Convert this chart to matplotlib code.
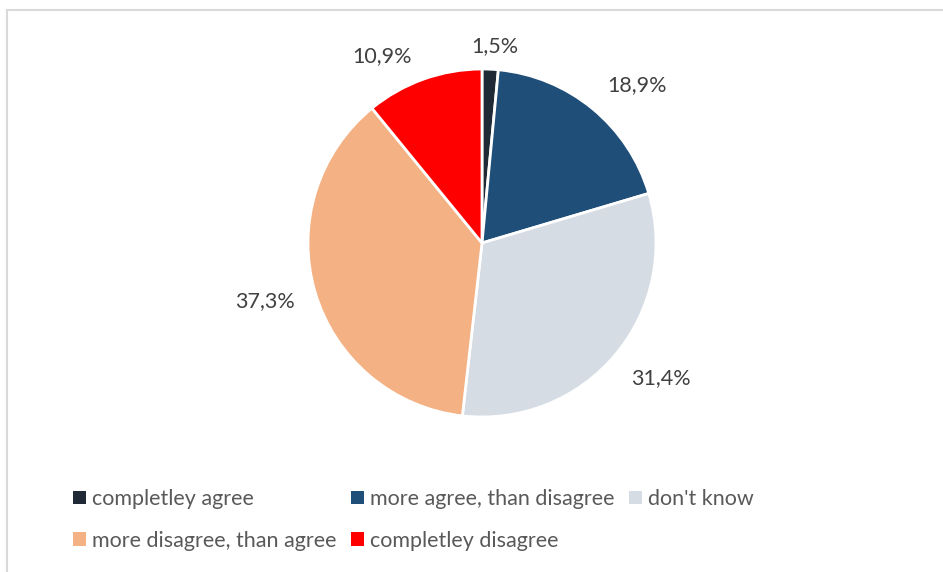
import numpy as np
import matplotlib.pyplot as plt
from matplotlib.lines import Line2D
from matplotlib.patches import Patch

categories = [
    "completley agree",
    "more agree, than disagree",
    "don't know",
    "more disagree, than agree",
    "completley disagree",
]
shares = [1.5, 18.9, 31.4, 37.3, 10.9]
share_labels = ["1,5%", "18,9%", "31,4%", "37,3%", "10,9%"]
colors = ["#1f2a36", "#1f4e79", "#d6dce4", "#f4b183", "#ff0000"]

# data label placement: distance from centre (radii) and angle nudge (deg)
label_dist = [1.135, 1.27, 1.29, 1.29, 1.22]
label_nudge = [-1.1, -5.1, 3.0, -1.4, 8.4]

plt.rcParams["font.family"] = ["Lato", "DejaVu Sans"]

W, H = 943, 572
fig = plt.figure(figsize=(W / 100, H / 100), dpi=100)

cx, cy, r = 482, 243, 174
ax = fig.add_axes([(cx - r) / W, (H - cy - r) / H, 2 * r / W, 2 * r / H])
wedges, _ = ax.pie(
    shares,
    colors=colors,
    startangle=90,
    counterclock=False,
    radius=1.0,
    wedgeprops=dict(edgecolor="white", linewidth=2),
)
ax.set_xlim(-1, 1)
ax.set_ylim(-1, 1)
ax.axis("off")

for w, lab, d, nudge in zip(wedges, share_labels, label_dist, label_nudge):
    mid = np.deg2rad((w.theta1 + w.theta2) / 2 + nudge)
    ax.text(d * np.cos(mid), d * np.sin(mid), lab, ha="center", va="center",
            fontsize=15.5, color="#404040", clip_on=False)

handles = [Patch(facecolor=c, edgecolor="none") for c in colors]
order = [0, 3, 1, 4, 2]
fig.legend(
    [handles[i] for i in order],
    [categories[i] for i in order],
    ncol=3,
    loc="upper left",
    bbox_to_anchor=(73 / W, 1 - 489 / H),
    frameon=False,
    borderpad=0,
    borderaxespad=0,
    fontsize=15.5,
    labelcolor="#595959",
    handlelength=0.6,
    handleheight=0.6,
    handletextpad=0.3,
    columnspacing=0.65,
    labelspacing=1.0,
)

# thin grey frame on top and left, like the cropped chart area
fig.add_artist(Line2D([7 / W, 1], [1 - 10 / H, 1 - 10 / H], color="#d9d9d9", lw=1.5))
fig.add_artist(Line2D([7 / W, 7 / W], [0, 1 - 10 / H], color="#d9d9d9", lw=1.5))

fig.savefig("out.png", dpi=100)
